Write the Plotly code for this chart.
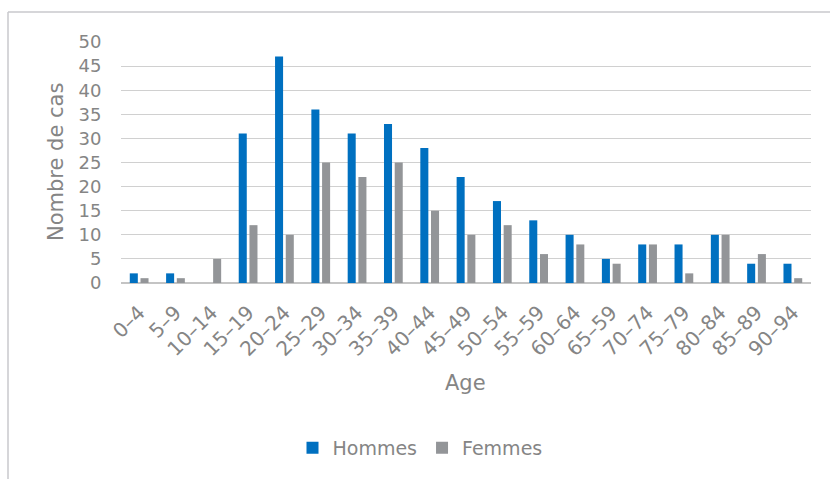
import plotly.graph_objects as go

categories = ["0–4", "5–9", "10–14", "15–19", "20–24", "25–29", "30–34", "35–39",
              "40–44", "45–49", "50–54", "55–59", "60–64", "65–59", "70–74", "75–79",
              "80–84", "85–89", "90–94"]
hommes = [2, 2, 0, 31, 47, 36, 31, 33, 28, 22, 17, 13, 10, 5, 8, 8, 10, 4, 4]
femmes = [1, 1, 5, 12, 10, 25, 22, 25, 15, 10, 12, 6, 8, 4, 8, 2, 10, 6, 1]
y_ticks = list(range(0, 51, 5))

FONT = "DejaVu Sans"
TXT = "#858585"

fig = go.Figure()
fig.add_trace(go.Bar(x=categories, y=hommes, name="Hommes", marker_color="#0070C0",
                     marker_line_width=0))
fig.add_trace(go.Bar(x=categories, y=femmes, name="Femmes", marker_color="#939598",
                     marker_line_width=0))

L, R, T, B = 121, 19, 42, 196
W, H = 830, 479
pw, ph = W - L - R, H - T - B

def px(x):
    return (x - L) / pw

def py(y):
    return (H - B - y) / ph

fig.update_layout(
    width=W, height=H,
    margin=dict(l=L, r=R, t=T, b=B),
    paper_bgcolor="white", plot_bgcolor="white",
    barmode="group", bargap=0.41, bargroupgap=0.25,
    font=dict(family=FONT, color=TXT),
    showlegend=True,
    legend=dict(orientation="h", x=px(420), xanchor="center", y=py(448), yanchor="middle",
                font=dict(family=FONT, size=19, color=TXT), itemwidth=30,
                bgcolor="rgba(0,0,0,0)"),
    xaxis=dict(tickangle=-45, tickfont=dict(family=FONT, size=20, color=TXT),
               showgrid=False, showline=False, zeroline=False,
               ticks="outside", ticklen=9, tickcolor="rgba(0,0,0,0)"),
    yaxis=dict(range=[0, 50], tickvals=y_ticks, tickfont=dict(family=FONT, size=18, color=TXT),
               showgrid=True, gridcolor="#d0d0d0", gridwidth=1.3,
               zeroline=True, zerolinecolor="#c4c4c4", zerolinewidth=1.5,
               showline=False, ticks="outside", ticklen=15, tickcolor="rgba(0,0,0,0)"),
    annotations=[
        dict(text="Nombre de cas", x=px(56), y=py(162), xref="paper", yref="paper",
             textangle=-90, showarrow=False, xanchor="center", yanchor="middle",
             font=dict(family=FONT, size=21, color=TXT)),
        dict(text="Age", x=px(465), y=py(383), xref="paper", yref="paper",
             showarrow=False, xanchor="center", yanchor="middle",
             font=dict(family=FONT, size=21, color=TXT)),
    ],
    shapes=[
        dict(type="line", xref="paper", yref="paper", x0=px(8), x1=px(831), y0=py(12), y1=py(12),
             line=dict(color="#c8c8cc", width=1.5)),
        dict(type="line", xref="paper", yref="paper", x0=px(8), x1=px(8), y0=py(12), y1=py(480),
             line=dict(color="#c8c8cc", width=1.5)),
    ],
)

fig.write_html("out.html")
